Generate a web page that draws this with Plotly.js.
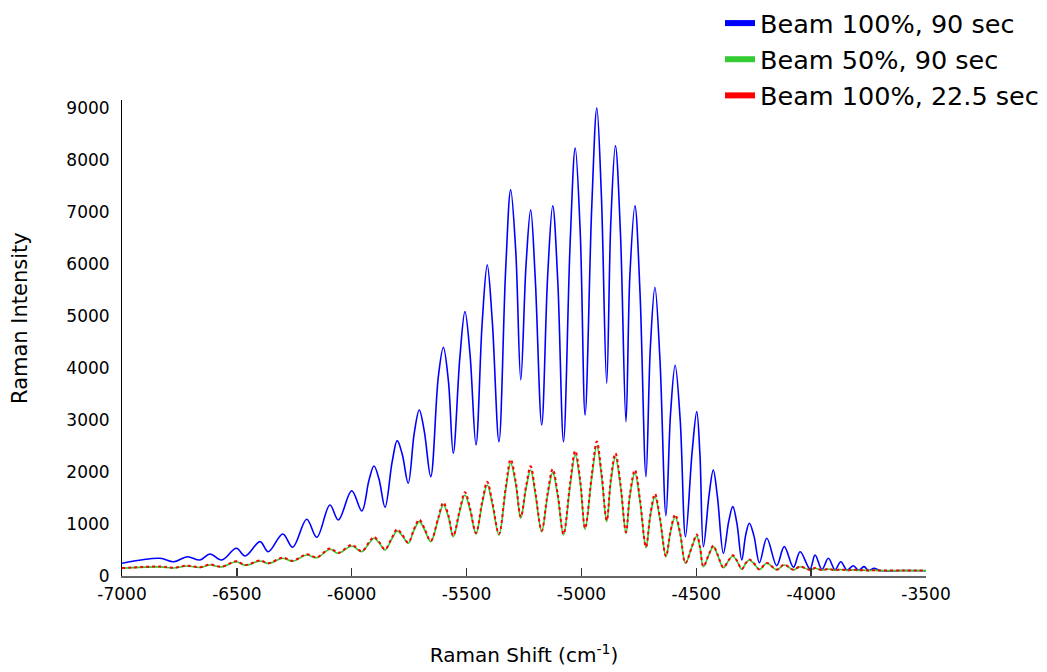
<!DOCTYPE html>
<html>
<head>
<meta charset="utf-8">
<script src="https://cdn.plot.ly/plotly-3.0.1.min.js"></script>
<style>
  html, body { margin: 0; padding: 0; background: #ffffff; }
  #chart { width: 1047px; height: 672px; }
</style>
</head>
<body>
<div id="chart"></div>
<script>
// Raman shift positions (cm^-1): troughs, peak flanks and peaks
var ramanShift = [
  -7000, -6835, -6775, -6716, -6660, -6617, -6566, -6502, -6464, -6399, -6363, -6300, -6257, -6196, -6152, -6095, -6058, -6000, -5956,
  -5925, -5903, -5881, -5855,
  -5824, -5802, -5780, -5754,
  -5728, -5706, -5684, -5656,
  -5623, -5601, -5579, -5558,
  -5529, -5507, -5485, -5459,
  -5432, -5410, -5388, -5359,
  -5330, -5308, -5286, -5264,
  -5241, -5221, -5201, -5173,
  -5147, -5125, -5103, -5078,
  -5049, -5027, -5005, -4984,
  -4955, -4933, -4913, -4890,
  -4872, -4852, -4830, -4806,
  -4789, -4767, -4745, -4719,
  -4700, -4680, -4658, -4632,
  -4612, -4592, -4570, -4547,
  -4518, -4498, -4484, -4469,
  -4444, -4426, -4408, -4382,
  -4359, -4341, -4323, -4302,
  -4285, -4269, -4249, -4225,
  -4193, -4150, -4117, -4077, -4048, -4005, -3983, -3953, -3925, -3896, -3871, -3844, -3816, -3794, -3770, -3750, -3726, -3700, -3600, -3500
];

// Beam 100%, 90 sec
var beam100_90 = [
  244, 340, 275, 371, 308, 423, 308, 532, 385, 660, 467, 808, 552, 1090, 744, 1365, 1077, 1640, 1250,
  1838, 2115, 1861, 1321,
  2192, 2602, 2340, 1782,
  2741, 3192, 2782, 1910,
  3830, 4398, 3746, 2360,
  4212, 5083, 4263, 2519,
  4873, 5981, 4894, 2583,
  5874, 7423, 6254, 3769,
  5992, 7038, 5715, 2904,
  5767, 7115, 5665, 2583,
  6419, 8224, 6583, 3096,
  7107, 8994, 7302, 3705,
  6809, 8269, 6573, 2968,
  5788, 7115, 5449, 1910,
  4386, 5551, 4146, 1160,
  3125, 4050, 2996, 756,
  2391, 3160, 2329, 564,
  1566, 2038, 1525, 436,
  1046, 1333, 1005, 308,
  787, 1013, 771, 256,
  725, 198, 564, 167, 467, 135, 404, 125, 340, 120, 275, 115, 198, 110, 180, 108, 150, 105, 105, 102
];

// Beam 50%, 90 sec
var beam50_90 = [
  148, 175, 155, 192, 165, 212, 175, 275, 205, 288, 240, 340, 285, 404, 350, 513, 436, 577, 467,
  627, 725, 640, 500,
  726, 865, 775, 628,
  887, 1045, 899, 660,
  1097, 1365, 1134, 756,
  1253, 1558, 1273, 808,
  1392, 1750, 1384, 788,
  1643, 2167, 1765, 1109,
  1685, 2038, 1587, 852,
  1556, 1987, 1531, 788,
  1742, 2327, 1784, 898,
  1891, 2500, 1947, 1045,
  1812, 2282, 1727, 821,
  1536, 1974, 1431, 545,
  1153, 1525, 1086, 371,
  848, 1140, 800, 244,
  570, 770, 545, 179,
  418, 564, 410, 160,
  300, 385, 288, 129,
  240, 308, 238, 125,
  244, 120, 212, 118, 179, 115, 150, 112, 135, 110, 125, 108, 118, 106, 112, 105, 110, 104, 104, 103
];

// Beam 100%, 22.5 sec
var beam100_22 = [
  152, 182, 160, 199, 170, 220, 180, 284, 210, 298, 246, 352, 292, 418, 358, 530, 446, 596, 478,
  645, 752, 656, 512,
  746, 897, 794, 642,
  910, 1082, 921, 676,
  1125, 1412, 1162, 774,
  1285, 1612, 1305, 826,
  1428, 1810, 1418, 806,
  1686, 2240, 1810, 1134,
  1728, 2108, 1628, 872,
  1596, 2055, 1570, 806,
  1788, 2405, 1830, 918,
  1940, 2585, 1996, 1068,
  1858, 2360, 1770, 840,
  1574, 2040, 1466, 558,
  1182, 1578, 1112, 380,
  868, 1180, 820, 250,
  584, 798, 558, 184,
  428, 584, 420, 164,
  307, 398, 295, 132,
  246, 318, 244, 128,
  252, 123, 218, 120, 184, 117, 154, 114, 138, 112, 128, 110, 120, 108, 114, 106, 111, 105, 105, 104
];

var seriesNames = ['Beam 100%, 90 sec', 'Beam 50%, 90 sec', 'Beam 100%, 22.5 sec'];
var seriesColors = ['#0000ff', '#33cc33', '#ff0000'];

var xTickVals = [-7000, -6500, -6000, -5500, -5000, -4500, -4000, -3500];
var xTickText = ['-7000', '-6500', '-6000', '-5500', '-5000', '-4500', '-4000', '-3500'];
var yTickVals = [0, 1000, 2000, 3000, 4000, 5000, 6000, 7000, 8000, 9000];
var yTickText = ['0', '1000', '2000', '3000', '4000', '5000', '6000', '7000', '8000', '9000'];

var FONT = 'DejaVu Sans, Arial, sans-serif';

var seriesData = [beam100_90, beam50_90, beam100_22];
var traces = [];
seriesData.forEach(function (ys, i) {
  traces.push({
    type: 'scatter', mode: 'lines',
    x: ramanShift, y: ys,
    name: seriesNames[i],
    showlegend: false,
    hoverinfo: 'x+y+name',
    line: {
      color: seriesColors[i],
      width: i === 2 ? 2 : 1.6,
      dash: i === 2 ? 'dot' : 'solid',
      shape: 'spline', smoothing: 1
    }
  });
});
// legend entries (thick swatches like the original legend)
seriesNames.forEach(function (nm, i) {
  traces.push({
    type: 'scatter', mode: 'lines',
    x: [null], y: [null],
    name: nm, showlegend: true, hoverinfo: 'skip',
    line: { color: seriesColors[i], width: 6 }
  });
});

var layout = {
  width: 1047, height: 672,
  margin: { l: 122, r: 121, t: 100, b: 96, autoexpand: false },
  paper_bgcolor: '#ffffff', plot_bgcolor: '#ffffff',
  font: { family: FONT, color: '#000000' },
  showlegend: true,
  legend: {
    xref: 'container', yref: 'container',
    x: 0.6877, y: 1.009, xanchor: 'left', yanchor: 'top',
    font: { family: FONT, size: 25.5, color: '#000000' },
    bgcolor: 'rgba(0,0,0,0)', borderwidth: 0,
    itemwidth: 30, tracegroupgap: 0
  },
  xaxis: {
    range: [-7000, -3500],
    tickvals: xTickVals, ticktext: xTickText,
    ticks: 'inside', ticklen: 8, tickwidth: 1.5, tickcolor: '#333333',
    showline: true, linecolor: '#666666', linewidth: 2,
    showgrid: false, zeroline: false,
    ticklabelstandoff: 2,
    tickfont: { family: FONT, size: 17, color: '#000000' },
    title: { text: 'Raman Shift (cm<sup>-1</sup>)', font: { family: FONT, size: 20, color: '#000000' }, standoff: 45 }
  },
  yaxis: {
    range: [0, 9150],
    tickvals: yTickVals, ticktext: yTickText,
    ticks: '', showline: true, linecolor: '#000000', linewidth: 1,
    showgrid: false, zeroline: false,
    ticklabelstandoff: 8,
    tickfont: { family: FONT, size: 17, color: '#000000' }
  },
  annotations: [{
    text: 'Raman Intensity', textangle: -90,
    xref: 'paper', yref: 'paper', x: -0.1269, y: 0.542,
    xanchor: 'center', yanchor: 'middle', showarrow: false,
    font: { family: FONT, size: 21, color: '#000000' }
  }]
};

Plotly.newPlot('chart', traces, layout, { displayModeBar: false, staticPlot: true });
</script>
</body>
</html>
